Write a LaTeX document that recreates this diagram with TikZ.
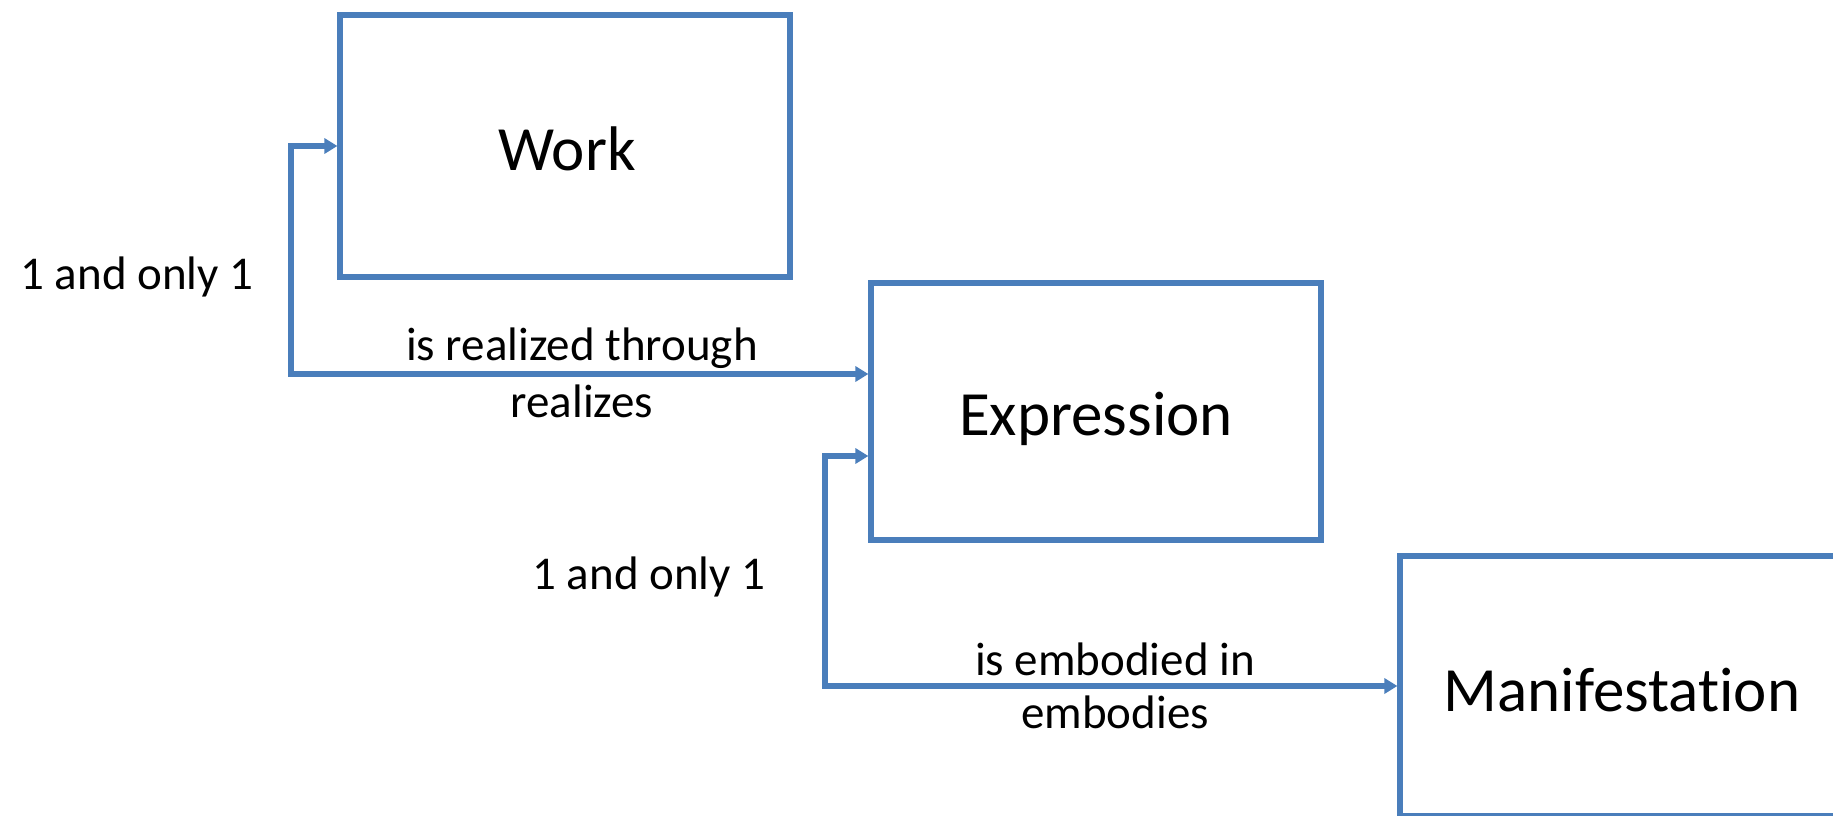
\documentclass[tikz,border=0pt]{standalone}
\usepackage{fontspec}
\setmainfont[Ligatures={NoCommon}]{Carlito}
\usetikzlibrary{arrows.meta,calc}
\definecolor{frbrblue}{RGB}{74,126,187}
\tikzset{
  entity/.style={draw=frbrblue, line width=2.6pt, fill=white, rectangle, inner sep=0pt},
  conn/.style={draw=frbrblue, line width=2.6pt, -{Triangle[length=6.5pt,width=7.5pt]}, line join=miter},
  lbl/.style={font=\fontsize{23.5}{28}\selectfont, anchor=base, inner sep=0pt},
  big/.style={font=\fontsize{31.5}{36}\selectfont, anchor=base, inner sep=0pt}
}
\begin{document}
\begin{tikzpicture}[x=0.5pt,y=-0.5pt]
\useasboundingbox (0,0) rectangle (1833,815);
\clip (0,0) rectangle (1833,815);
\node[entity, minimum width=225pt, minimum height=131pt] (work) at (565,146) {};
\node[entity, minimum width=225pt, minimum height=128.5pt] (expr) at (1096,411.5) {};
\node[entity, minimum width=225pt, minimum height=130pt] (mani) at (1625,686) {};
\node[big] (tw) at (567,170) {Work};
\node[big] (te) at (1096,435) {Expression};
\node[big] (tm) at (1622,711) {Manifestation};
\coordinate (j1) at (291,260);
\coordinate (e1) at ($(expr.west)+(0,-37.5)$);
\draw[conn] (j1) |- (work.west);
\draw[conn] (j1) |- (e1);
\coordinate (j2) at (825,570);
\coordinate (e2) at ($(expr.west)+(0,44.5)$);
\coordinate (m2) at (mani.west);
\draw[conn] (j2) |- (e2);
\draw[conn] (j2) |- (m2);
\node[lbl] (c1) at (137,289) {1 and only 1};
\node[lbl] (r1) at (582,360) {is realized through};
\node[lbl] (r2) at (582,417) {realizes};
\node[lbl] (c2) at (649,589) {1 and only 1};
\node[lbl] (b1) at (1115,675) {is embodied in};
\node[lbl] (b2) at (1115,728) {embodies};
\end{tikzpicture}
\end{document}
